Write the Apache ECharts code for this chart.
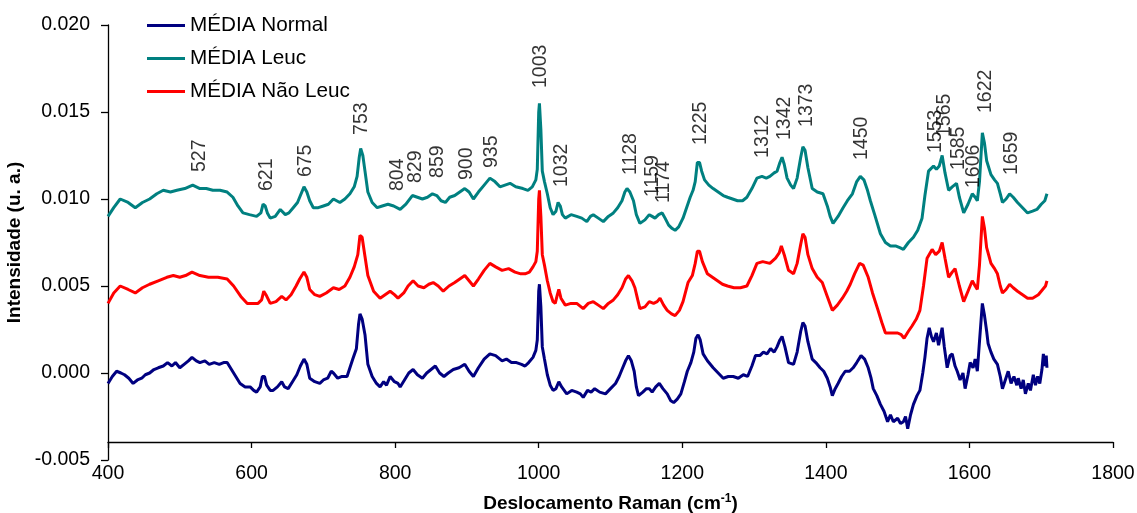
<!DOCTYPE html>
<html>
<head>
<meta charset="utf-8">
<script src="https://cdn.jsdelivr.net/npm/echarts@6/dist/echarts.min.js"></script>
<style>
html,body{margin:0;padding:0;background:#fff;}
#chart{width:1137px;height:513px;}
</style>
</head>
<body>
<div id="chart"></div>
<script>
// ---- DATA ----
const seriesNames = ['MÉDIA Normal', 'MÉDIA Leuc', 'MÉDIA Não Leuc'];
const xTicks = [400, 600, 800, 1000, 1200, 1400, 1600, 1800];
const yTicks = [-0.005, 0.000, 0.005, 0.010, 0.015, 0.020];

const leuc = [
[400,0.0090],[408,0.0095],[417,0.0100],[428,0.0098],[438,0.0095],[448,0.0098],[458,0.0100],[468,0.0103],[477,0.0105],[487,0.0104],[496,0.0105],[507,0.0106],[518,0.0108],[528,0.0106],[537,0.0106],[546,0.0105],[556,0.0105],[566,0.0104],[574,0.0101],[581,0.0096],[588,0.0092],[597,0.0091],[607,0.0090],[613,0.0092],[616,0.0097],[619,0.0096],[622,0.0092],[626,0.0089],[633,0.0090],[640,0.0094],[647,0.0091],[652,0.0092],[658,0.0095],[664,0.0098],[668,0.0102],[673,0.0107],[677,0.0104],[681,0.0099],[686,0.0095],[693,0.0095],[700,0.0096],[707,0.0097],[714,0.0100],[723,0.0098],[730,0.0100],[737,0.0103],[743,0.0107],[747,0.0113],[750,0.0124],[752,0.0129],[755,0.0125],[758,0.0116],[762,0.0104],[768,0.0098],[775,0.0095],[782,0.0096],[790,0.0097],[798,0.0096],[807,0.0094],[815,0.0097],[824,0.0102],[831,0.0101],[838,0.0100],[845,0.0101],[852,0.0103],[858,0.0102],[864,0.0099],[870,0.0098],[876,0.0101],[883,0.0102],[890,0.0104],[897,0.0106],[903,0.0104],[909,0.0100],[916,0.0104],[924,0.0108],[932,0.0112],[939,0.0110],[946,0.0107],[953,0.0108],[960,0.0109],[968,0.0107],[978,0.0106],[985,0.0105],[991,0.0107],[996,0.0111],[998,0.0117],[1000,0.0150],[1001,0.0155],[1003,0.0140],[1005,0.0116],[1008,0.0110],[1012,0.0103],[1016,0.0095],[1020,0.0091],[1024,0.0093],[1027,0.0098],[1030,0.0096],[1033,0.0091],[1037,0.0089],[1045,0.0091],[1053,0.0090],[1060,0.0089],[1067,0.0087],[1072,0.0090],[1076,0.0091],[1083,0.0089],[1090,0.0087],[1097,0.0090],[1104,0.0092],[1110,0.0095],[1116,0.0099],[1120,0.0104],[1123,0.0106],[1127,0.0104],[1132,0.0099],[1136,0.0091],[1141,0.0086],[1148,0.0088],[1154,0.0091],[1158,0.0090],[1162,0.0089],[1167,0.0091],[1172,0.0092],[1176,0.0089],[1181,0.0085],[1186,0.0083],[1190,0.0082],[1195,0.0084],[1201,0.0089],[1206,0.0095],[1211,0.0101],[1215,0.0105],[1218,0.0110],[1221,0.0121],[1224,0.0121],[1227,0.0116],[1231,0.0111],[1237,0.0108],[1243,0.0106],[1250,0.0104],[1257,0.0102],[1263,0.0101],[1270,0.0100],[1277,0.0099],[1284,0.0099],[1290,0.0101],[1297,0.0106],[1304,0.0112],[1311,0.0113],[1317,0.0112],[1322,0.0113],[1328,0.0115],[1332,0.0116],[1336,0.0121],[1339,0.0124],[1342,0.0120],[1346,0.0112],[1351,0.0108],[1355,0.0106],[1360,0.0112],[1365,0.0124],[1368,0.0130],[1371,0.0128],[1375,0.0118],[1381,0.0106],[1388,0.0104],[1396,0.0103],[1402,0.0096],[1406,0.0090],[1410,0.0086],[1417,0.0090],[1424,0.0095],[1430,0.0099],[1437,0.0103],[1443,0.0110],[1448,0.0113],[1453,0.0111],[1458,0.0105],[1462,0.0099],[1468,0.0091],[1476,0.0080],[1483,0.0075],[1490,0.0073],[1497,0.0073],[1503,0.0072],[1508,0.0071],[1515,0.0075],[1522,0.0078],[1528,0.0082],[1534,0.0089],[1538,0.0102],[1543,0.0116],[1550,0.0119],[1554,0.0117],[1558,0.0119],[1562,0.0125],[1566,0.0115],[1571,0.0105],[1576,0.0107],[1582,0.0109],[1586,0.0101],[1592,0.0092],[1598,0.0097],[1604,0.0103],[1608,0.0101],[1611,0.0099],[1614,0.0110],[1618,0.0138],[1621,0.0132],[1624,0.0122],[1630,0.0114],[1635,0.0111],[1639,0.0109],[1643,0.0103],[1646,0.0098],[1651,0.0100],[1656,0.0103],[1661,0.0101],[1667,0.0098],[1674,0.0095],[1681,0.0092],[1688,0.0093],[1694,0.0094],[1700,0.0097],[1705,0.0099],[1708,0.0103]
];

const naoLeuc = [
[400,0.0040],[408,0.0046],[417,0.0050],[428,0.0048],[438,0.0046],[448,0.0049],[458,0.0051],[470,0.0053],[482,0.0055],[491,0.0056],[500,0.0055],[508,0.0056],[517,0.0058],[528,0.0056],[540,0.0055],[553,0.0055],[566,0.0054],[575,0.0050],[585,0.0044],[594,0.0040],[602,0.0040],[609,0.0040],[614,0.0042],[617,0.0047],[620,0.0045],[626,0.0040],[634,0.0041],[642,0.0044],[648,0.0042],[655,0.0045],[662,0.0050],[667,0.0054],[673,0.0058],[677,0.0055],[681,0.0048],[688,0.0045],[695,0.0044],[704,0.0046],[714,0.0049],[722,0.0048],[730,0.0050],[737,0.0055],[743,0.0061],[748,0.0068],[751,0.0079],[754,0.0078],[758,0.0067],[762,0.0056],[770,0.0047],[779,0.0043],[786,0.0045],[793,0.0047],[799,0.0045],[804,0.0043],[812,0.0046],[818,0.0050],[825,0.0053],[832,0.0050],[840,0.0049],[847,0.0051],[853,0.0052],[860,0.0050],[867,0.0047],[875,0.0050],[883,0.0052],[890,0.0054],[897,0.0056],[903,0.0053],[909,0.0050],[916,0.0054],[924,0.0059],[932,0.0063],[940,0.0061],[949,0.0059],[958,0.0060],[967,0.0058],[975,0.0057],[981,0.0057],[987,0.0058],[992,0.0061],[996,0.0064],[998,0.0070],[1000,0.0100],[1001,0.0105],[1003,0.0090],[1005,0.0068],[1008,0.0062],[1012,0.0053],[1016,0.0046],[1020,0.0041],[1023,0.0040],[1026,0.0045],[1028,0.0048],[1031,0.0043],[1037,0.0039],[1045,0.0040],[1053,0.0040],[1062,0.0037],[1069,0.0040],[1076,0.0041],[1083,0.0039],[1090,0.0037],[1097,0.0040],[1104,0.0042],[1110,0.0045],[1116,0.0049],[1121,0.0054],[1125,0.0056],[1130,0.0053],[1134,0.0049],[1138,0.0042],[1141,0.0037],[1148,0.0038],[1154,0.0041],[1160,0.0040],[1165,0.0041],[1169,0.0043],[1174,0.0039],[1179,0.0036],[1185,0.0034],[1190,0.0033],[1196,0.0036],[1201,0.0041],[1208,0.0052],[1214,0.0056],[1218,0.0063],[1221,0.0070],[1224,0.0070],[1228,0.0064],[1235,0.0057],[1242,0.0055],[1249,0.0053],[1256,0.0051],[1263,0.0050],[1272,0.0049],[1281,0.0049],[1290,0.0050],[1297,0.0056],[1304,0.0063],[1312,0.0064],[1322,0.0063],[1330,0.0066],[1335,0.0069],[1338,0.0073],[1342,0.0068],[1348,0.0059],[1355,0.0057],[1360,0.0063],[1365,0.0074],[1368,0.0080],[1371,0.0078],[1375,0.0068],[1381,0.0060],[1388,0.0055],[1395,0.0052],[1402,0.0044],[1409,0.0036],[1416,0.0039],[1423,0.0043],[1429,0.0047],[1434,0.0051],[1440,0.0057],[1447,0.0063],[1452,0.0062],[1459,0.0055],[1465,0.0046],[1472,0.0037],[1478,0.0029],[1483,0.0023],[1490,0.0023],[1500,0.0023],[1505,0.0022],[1509,0.0020],[1515,0.0024],[1520,0.0027],[1526,0.0031],[1531,0.0036],[1536,0.0050],[1541,0.0066],[1548,0.0071],[1553,0.0068],[1558,0.0070],[1562,0.0075],[1566,0.0066],[1571,0.0055],[1576,0.0058],[1580,0.0060],[1586,0.0050],[1592,0.0041],[1598,0.0047],[1604,0.0053],[1608,0.0050],[1611,0.0048],[1614,0.0062],[1618,0.0090],[1621,0.0083],[1624,0.0072],[1630,0.0063],[1635,0.0060],[1639,0.0057],[1643,0.0050],[1646,0.0046],[1651,0.0048],[1656,0.0051],[1661,0.0049],[1667,0.0047],[1674,0.0045],[1681,0.0043],[1688,0.0043],[1696,0.0045],[1702,0.0048],[1706,0.0050],[1708,0.0053]
];

const normal = [
[400,-0.0006],[406,-0.0002],[412,0.0001],[418,0.0000],[423,-0.0001],[429,-0.0003],[435,-0.0006],[441,-0.0004],[447,-0.0003],[452,-0.0001],[458,0.0000],[464,0.0002],[470,0.0003],[477,0.0004],[483,0.0006],[489,0.0004],[494,0.0006],[500,0.0003],[506,0.0005],[512,0.0007],[517,0.0009],[523,0.0007],[528,0.0006],[535,0.0007],[541,0.0005],[548,0.0006],[555,0.0005],[561,0.0006],[566,0.0006],[572,0.0002],[578,-0.0002],[584,-0.0006],[591,-0.0008],[598,-0.0008],[603,-0.0010],[607,-0.0011],[612,-0.0008],[615,-0.0002],[618,-0.0002],[621,-0.0007],[626,-0.0010],[630,-0.0010],[636,-0.0008],[642,-0.0005],[646,-0.0008],[651,-0.0009],[657,-0.0005],[663,-0.0001],[668,0.0004],[673,0.0008],[677,0.0005],[681,-0.0003],[688,-0.0005],[695,-0.0006],[700,-0.0004],[706,-0.0003],[711,0.0001],[714,0.0000],[720,-0.0003],[726,-0.0002],[733,-0.0002],[741,0.0008],[746,0.0014],[749,0.0028],[751,0.0034],[754,0.0031],[758,0.0022],[762,0.0005],[768,-0.0002],[774,-0.0006],[779,-0.0008],[784,-0.0005],[788,-0.0007],[793,-0.0002],[799,-0.0005],[804,-0.0006],[807,-0.0008],[813,-0.0004],[819,0.0000],[825,0.0002],[831,-0.0001],[838,-0.0003],[844,0.0000],[850,0.0002],[856,0.0004],[862,0.0000],[868,-0.0002],[874,0.0000],[881,0.0002],[889,0.0003],[897,0.0005],[903,0.0001],[909,-0.0002],[916,0.0003],[924,0.0008],[932,0.0011],[940,0.0010],[949,0.0007],[955,0.0008],[962,0.0006],[969,0.0006],[976,0.0005],[981,0.0004],[986,0.0006],[992,0.0009],[996,0.0013],[998,0.0019],[1000,0.0047],[1001,0.0051],[1003,0.0038],[1005,0.0015],[1008,0.0008],[1012,-0.0001],[1016,-0.0007],[1020,-0.0010],[1024,-0.0009],[1028,-0.0005],[1032,-0.0008],[1039,-0.0012],[1046,-0.0010],[1053,-0.0011],[1058,-0.0012],[1062,-0.0014],[1068,-0.0010],[1073,-0.0011],[1078,-0.0009],[1085,-0.0011],[1093,-0.0012],[1100,-0.0009],[1107,-0.0006],[1112,-0.0002],[1116,0.0002],[1121,0.0007],[1125,0.0010],[1129,0.0007],[1133,0.0001],[1136,-0.0008],[1139,-0.0013],[1145,-0.0011],[1150,-0.0009],[1154,-0.0009],[1158,-0.0011],[1163,-0.0008],[1168,-0.0006],[1173,-0.0009],[1179,-0.0012],[1184,-0.0016],[1188,-0.0017],[1193,-0.0015],[1198,-0.0012],[1203,-0.0005],[1207,0.0001],[1212,0.0006],[1216,0.0012],[1219,0.0020],[1222,0.0022],[1225,0.0019],[1229,0.0011],[1235,0.0007],[1243,0.0003],[1250,0.0000],[1257,-0.0003],[1264,-0.0002],[1271,-0.0002],[1278,-0.0003],[1285,-0.0001],[1291,-0.0002],[1297,0.0004],[1302,0.0010],[1308,0.0010],[1313,0.0012],[1318,0.0011],[1323,0.0014],[1328,0.0012],[1332,0.0015],[1336,0.0019],[1339,0.0021],[1343,0.0015],[1348,0.0006],[1355,0.0005],[1360,0.0012],[1365,0.0024],[1368,0.0029],[1371,0.0027],[1375,0.0018],[1381,0.0008],[1386,0.0006],[1392,0.0003],[1397,0.0001],[1402,-0.0003],[1406,-0.0008],[1409,-0.0013],[1413,-0.0009],[1417,-0.0006],[1422,-0.0002],[1427,0.0001],[1433,0.0001],[1438,0.0003],[1443,0.0006],[1449,0.0010],[1454,0.0008],[1459,0.0003],[1463,-0.0003],[1466,-0.0009],[1471,-0.0013],[1476,-0.0018],[1481,-0.0022],[1486,-0.0028],[1490,-0.0024],[1494,-0.0028],[1500,-0.0026],[1504,-0.0029],[1508,-0.0028],[1511,-0.0025],[1514,-0.0032],[1518,-0.0024],[1522,-0.0018],[1527,-0.0013],[1531,-0.0010],[1535,0.0000],[1538,0.0009],[1541,0.0020],[1544,0.0026],[1547,0.0021],[1550,0.0018],[1554,0.0023],[1557,0.0016],[1562,0.0026],[1565,0.0015],[1569,0.0003],[1573,0.0010],[1576,0.0011],[1580,0.0004],[1583,0.0001],[1587,-0.0004],[1591,0.0000],[1594,-0.0009],[1598,-0.0001],[1601,0.0006],[1605,0.0003],[1608,0.0008],[1611,0.0001],[1614,0.0018],[1618,0.0040],[1621,0.0033],[1624,0.0024],[1626,0.0017],[1630,0.0012],[1634,0.0008],[1639,0.0005],[1643,-0.0002],[1646,-0.0009],[1650,-0.0004],[1654,0.0001],[1658,-0.0006],[1662,-0.0002],[1666,-0.0007],[1668,-0.0003],[1672,-0.0009],[1675,-0.0004],[1678,-0.0012],[1682,-0.0006],[1685,-0.0010],[1689,-0.0001],[1692,-0.0007],[1695,-0.0002],[1698,-0.0006],[1701,0.0002],[1703,0.0011],[1705,0.0004],[1707,0.0010],[1708,0.0003]
];

// peak annotations: wavenumber label and the intensity where the label starts
const peakLabels = [527, 621, 675, 753, 804, 829, 859, 900, 935, 1003, 1032, 1128, 1159, 1174, 1225, 1312, 1342, 1373, 1450, 1553, 1565, 1585, 1606, 1622, 1659];
const peakLabelBase = [0.01155, 0.01046, 0.01126, 0.01368, 0.01046, 0.01092, 0.01121, 0.01109, 0.01178, 0.01638, 0.01069, 0.01138, 0.01011, 0.00977, 0.01310, 0.01236, 0.01339, 0.01414, 0.01224, 0.01264, 0.01356, 0.01167, 0.01063, 0.01494, 0.01138];

// ---- CHART ----
const FONT = '"Liberation Sans", Arial, sans-serif';
const colors = ['#000080', '#008080', '#FF0000'];
const chart = echarts.init(document.getElementById('chart'), null, {renderer: 'canvas'});

const lineSeries = [normal, leuc, naoLeuc].map((d, i) => ({
  name: seriesNames[i],
  type: 'line',
  data: d,
  showSymbol: false,
  symbol: 'none',
  lineStyle: {color: colors[i], width: 3},
  itemStyle: {color: colors[i]},
  emphasis: {disabled: true},
  z: 3
}));

const labelSeries = {
  name: 'peaks',
  type: 'scatter',
  symbolSize: 0,
  silent: true,
  data: peakLabels.map((p, i) => ({value: [p, peakLabelBase[i]], name: String(p)})),
  label: {
    show: true,
    position: 'inside',
    rotate: 90,
    align: 'left',
    verticalAlign: 'middle',
    formatter: p => p.name,
    color: '#000',
    fontFamily: FONT,
    fontSize: 19.5
  },
  z: 4
};

chart.setOption({
  animation: false,
  backgroundColor: '#fff',
  textStyle: {fontFamily: FONT},
  grid: {left: 108, right: 24, top: 25, bottom: 53, containLabel: false, outerBoundsMode: 'none'},
  legend: {
    data: seriesNames,
    orient: 'vertical',
    left: 142,
    top: 10,
    icon: 'rect',
    itemWidth: 38,
    itemHeight: 3,
    itemGap: 12,
    textStyle: {fontFamily: FONT, fontSize: 20.7, color: '#000'},
    selectedMode: false
  },
  xAxis: {
    type: 'value',
    min: xTicks[0],
    max: xTicks[xTicks.length - 1],
    interval: 200,
    offset: -18,
    name: '{b|Deslocamento Raman (cm}{s|-1}{b|)}',
    nameLocation: 'middle',
    nameGap: 51,
    nameTextStyle: {
      rich: {
        b: {fontFamily: FONT, fontSize: 19, fontWeight: 'bold', color: '#000'},
        s: {fontFamily: FONT, fontSize: 12, fontWeight: 'bold', color: '#000', verticalAlign: 'top', padding: [0, 0, 9, 0]}
      }
    },
    axisLine: {show: true, onZero: false, lineStyle: {color: '#000', width: 1.3}},
    axisTick: {show: true, inside: false, length: 6, lineStyle: {color: '#000', width: 1.3}},
    axisLabel: {margin: 22, color: '#000', fontFamily: FONT, fontSize: 19.5, formatter: v => String(v)},
    splitLine: {show: false}
  },
  yAxis: {
    type: 'value',
    min: yTicks[0],
    max: yTicks[yTicks.length - 1],
    interval: 0.005,
    name: 'Intensidade (u. a.)',
    nameLocation: 'middle',
    nameGap: 78,
    nameTextStyle: {fontFamily: FONT, fontSize: 19, fontWeight: 'bold', color: '#000'},
    axisLine: {show: true, lineStyle: {color: '#000', width: 1.3}},
    axisTick: {show: true, inside: false, length: 7, lineStyle: {color: '#000', width: 1.3}},
    axisLabel: {margin: 18, color: '#000', fontFamily: FONT, fontSize: 19.5, formatter: v => v.toFixed(3)},
    splitLine: {show: false}
  },
  series: [...lineSeries, labelSeries]
});
</script>
</body>
</html>
